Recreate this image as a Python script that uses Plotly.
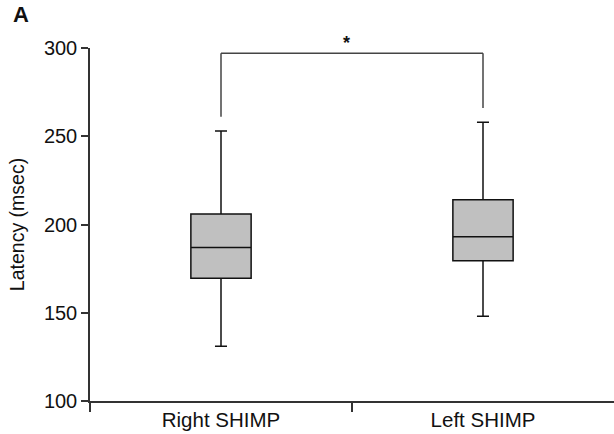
import plotly.graph_objects as go

categories = ["Right SHIMP", "Left SHIMP"]
lower_whisker = [131, 148]
q1 = [169.5, 179.5]
median = [187, 193]
q3 = [206, 214]
upper_whisker = [253, 258]
y_ticks = [100, 150, 200, 250, 300]
bracket_top = 297
bracket_left_end = 261
bracket_right_end = 266
sig_label = "*"

fig = go.Figure()
for i, cat in enumerate(categories):
    fig.add_trace(go.Box(
        x=[i], q1=[q1[i]], median=[median[i]], q3=[q3[i]],
        lowerfence=[lower_whisker[i]], upperfence=[upper_whisker[i]],
        name=cat, fillcolor="#c0c0c0",
        line=dict(color="#111111", width=1.5),
        width=0.23, whiskerwidth=0.2, showlegend=False, hoverinfo="skip",
    ))

fig.add_shape(type="line", xref="x", yref="y", x0=0, x1=0, y0=bracket_left_end, y1=bracket_top,
              line=dict(color="#444444", width=1.5))
fig.add_shape(type="line", xref="x", yref="y", x0=0, x1=1, y0=bracket_top, y1=bracket_top,
              line=dict(color="#444444", width=1.5))
fig.add_shape(type="line", xref="x", yref="y", x0=1, x1=1, y0=bracket_right_end, y1=bracket_top,
              line=dict(color="#444444", width=1.5))
fig.add_annotation(x=0.48, y=bracket_top, xref="x", yref="y", text="<b>" + sig_label + "</b>",
                   showarrow=False, yshift=10, font=dict(size=18, color="#111111"))
fig.add_annotation(x=-0.150, y=1.055, xref="paper", yref="paper", text="<b>A</b>", showarrow=False,
                   xanchor="left", yanchor="bottom",
                   font=dict(size=22, color="#111111", family="Liberation Sans Narrow, Liberation Sans, Arial"))

fig.update_layout(
    width=614, height=434,
    margin=dict(l=90, r=0, t=48, b=33),
    paper_bgcolor="white", plot_bgcolor="white",
    font=dict(family="Liberation Sans, Arial, sans-serif", size=19, color="#111111"),
    xaxis=dict(
        range=[-0.5, 1.5], tickmode="array", tickvals=[0, 1], ticktext=categories,
        ticks="", showline=True, linecolor="#333333", linewidth=1.5,
        showgrid=False, zeroline=False, tickfont=dict(size=20.5),
        minor=dict(tickmode="array", tickvals=[-0.5, 0.5], ticks="outside",
                   ticklen=9, tickcolor="#333333", tickwidth=1.5, showgrid=False),
    ),
    yaxis=dict(
        range=[100, 300], tickmode="array", tickvals=y_ticks,
        ticks="outside", ticklen=7, tickwidth=1.5, tickcolor="#333333",
        showline=True, linecolor="#333333", linewidth=1.5,
        showgrid=False, zeroline=False, tickfont=dict(size=20),
        title=dict(text="Latency (msec)", font=dict(size=19.5), standoff=14),
    ),
)

fig.write_html("out.html", config={"displayModeBar": False})
with open("out.html", encoding="utf-8") as f:
    html = f.read()
html = html.replace("<body>", '<body style="margin:0;padding:0;overflow:hidden">', 1)
with open("out.html", "w", encoding="utf-8") as f:
    f.write(html)
